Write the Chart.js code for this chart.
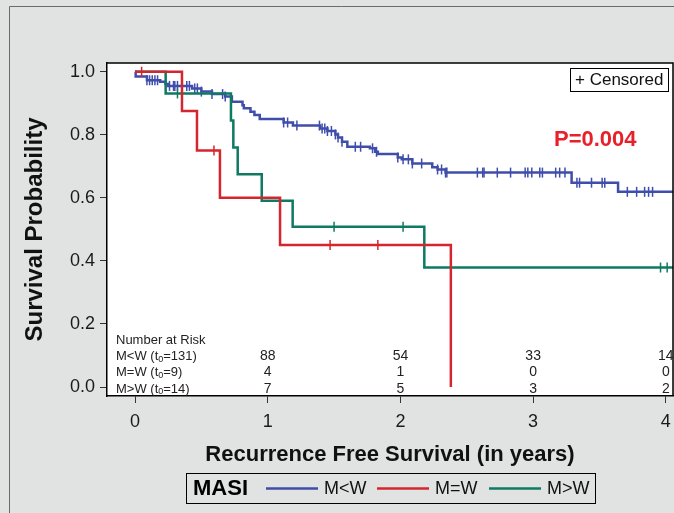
<!DOCTYPE html>
<html>
<head>
<meta charset="utf-8">
<script src="https://cdn.jsdelivr.net/npm/chart.js@4"></script>
<style>
  body { margin: 0; background: #e1e3e2; overflow: hidden; }
  canvas { display: block; }
</style>
</head>
<body>
<canvas id="km-chart" width="674" height="513"></canvas>
<script>
const xTicks = [0, 1, 2, 3, 4];
const yTicks = [0, 0.2, 0.4, 0.6, 0.8, 1.0];

const groups = ["M<W", "M=W", "M>W"];
const groupN = [131, 9, 14];
const colors = ["#3f4dab", "#d3262e", "#0f7a62"];

// M<W : step times and survival after each step
const ltTimes = [0, 0.005, 0.09, 0.19, 0.23, 0.25, 0.43, 0.50, 0.58, 0.68, 0.73, 0.81, 0.82, 0.87, 0.90, 0.94,
  1.12, 1.19, 1.395, 1.45, 1.51, 1.53, 1.56, 1.60, 1.77, 1.81, 1.83, 1.98, 2.01, 2.09, 2.24, 2.28, 2.34, 3.29, 3.64, 4.1];
const ltSurv = [1.0, 0.985, 0.973, 0.968, 0.961, 0.955, 0.947, 0.937, 0.929, 0.921, 0.905, 0.894, 0.884, 0.873, 0.863, 0.85,
  0.839, 0.829, 0.82, 0.812, 0.801, 0.791, 0.778, 0.762, 0.757, 0.746, 0.739, 0.728, 0.722, 0.709, 0.697, 0.69, 0.68, 0.648, 0.619, 0.619];
const ltCensor = [0.09, 0.11, 0.13, 0.15, 0.17, 0.26, 0.29, 0.30, 0.32, 0.39, 0.41, 0.45, 0.47, 0.50, 0.58, 0.66, 0.68,
  1.12, 1.15, 1.22, 1.39, 1.41, 1.43, 1.45, 1.48, 1.51, 1.53, 1.56, 1.66, 1.70, 1.79, 1.82, 1.98, 2.02, 2.06, 2.09, 2.16,
  2.28, 2.31, 2.34, 2.35, 2.58, 2.62, 2.63, 2.73, 2.83, 2.94, 2.96, 2.99, 3.05, 3.07, 3.17, 3.20, 3.24, 3.33, 3.35, 3.44,
  3.52, 3.54, 3.71, 3.78, 3.84, 3.87, 3.90];

// M=W
const eqTimes = [0, 0.354, 0.467, 0.64, 1.093, 2.38];
const eqSurv = [1.0, 0.875, 0.75, 0.6, 0.45, 0.0];
const eqCensor = [0.05, 0.595, 1.47, 1.83];

// M>W
const gtTimes = [0, 0.231, 0.723, 0.741, 0.774, 0.955, 1.188, 2.18, 4.1];
const gtSurv = [1.0, 0.931, 0.845, 0.760, 0.675, 0.591, 0.508, 0.379, 0.379];
const gtCensor = [0.32, 1.50, 2.02, 3.96, 4.01];

// number at risk
const riskTimes = [1, 2, 3, 4];
const riskLt = [88, 54, 33, 14];
const riskEq = [4, 1, 0, 0];
const riskGt = [7, 5, 3, 2];

const pText = "P=0.004";
const FONT = "'Liberation Sans', Arial, sans-serif";

function survAt(times, surv, t) {
  let v = surv[0];
  for (let i = 0; i < times.length; i++) {
    if (times[i] <= t) v = surv[i];
  }
  return v;
}

function curve(times, surv) {
  return times.map((t, i) => ({x: t, y: surv[i]}));
}

function censorPts(times, surv, cens) {
  return cens.map(t => ({x: t, y: survAt(times, surv, t)}));
}

const allTimes = [ltTimes, eqTimes, gtTimes];
const allSurv = [ltSurv, eqSurv, gtSurv];
const allCensor = [ltCensor, eqCensor, gtCensor];
const drawOrder = [2, 0, 1];

const datasets = [];
groups.forEach((g, i) => {
  datasets.push({
    label: g,
    data: curve(allTimes[i], allSurv[i]),
    borderColor: colors[i],
    borderWidth: 2.5,
    stepped: "before",
    pointRadius: 0,
    fill: false,
    order: drawOrder[i]
  });
  datasets.push({
    label: g + " censored",
    data: censorPts(allTimes[i], allSurv[i], allCensor[i]),
    showLine: false,
    borderColor: colors[i],
    pointStyle: "line",
    rotation: 90,
    pointRadius: 5,
    pointBorderWidth: 1.5,
    order: drawOrder[i]
  });
});

function subLabel(ctx, x, y, name, n, size) {
  let cx = x;
  ctx.font = size + "px " + FONT;
  const a = name + " (t";
  ctx.fillText(a, cx, y);
  cx += ctx.measureText(a).width;
  ctx.font = Math.round(size * 0.7) + "px " + FONT;
  ctx.fillText("0", cx, y + 3);
  cx += ctx.measureText("0").width;
  ctx.font = size + "px " + FONT;
  ctx.fillText("=" + n + ")", cx, y);
}

const extras = {
  id: "extras",
  beforeDraw(chart) {
    const {ctx, chartArea: a, width, height} = chart;
    ctx.save();
    ctx.fillStyle = "#e1e3e2";
    ctx.fillRect(0, 0, width, height);
    ctx.strokeStyle = "#6a6a6a";
    ctx.lineWidth = 1;
    ctx.beginPath();
    ctx.moveTo(9.5, height);
    ctx.lineTo(9.5, 6.5);
    ctx.lineTo(width, 6.5);
    ctx.stroke();
    ctx.fillStyle = "#ffffff";
    ctx.fillRect(a.left, a.top, a.right - a.left, a.bottom - a.top);
    ctx.restore();
  },
  afterDraw(chart) {
    const {ctx, chartArea: a} = chart;
    const xs = chart.scales.x;
    ctx.save();
    // frame top/right
    ctx.strokeStyle = "#000";
    ctx.lineWidth = 1.5;
    ctx.beginPath();
    ctx.moveTo(a.left, a.top);
    ctx.lineTo(a.right, a.top);
    ctx.lineTo(a.right, a.bottom);
    ctx.stroke();

    // censored box
    ctx.lineWidth = 1;
    ctx.strokeStyle = "#000";
    ctx.strokeRect(570.5, 68.5, 98, 23);
    ctx.fillStyle = "#111";
    ctx.font = "17px " + FONT;
    ctx.textBaseline = "middle";
    ctx.textAlign = "left";
    ctx.fillText("+ Censored", 575, 80.5);

    // p value
    ctx.fillStyle = "#e8202a";
    ctx.font = "bold 22px " + FONT;
    ctx.fillText(pText, 554, 140);

    // number at risk
    ctx.fillStyle = "#222";
    ctx.font = "13px " + FONT;
    ctx.fillText("Number at Risk", 116, 340);
    const rows = [riskLt, riskEq, riskGt];
    const rowY = [356.5, 372.5, 389];
    rows.forEach((r, i) => {
      ctx.textAlign = "left";
      subLabel(ctx, 116, rowY[i], groups[i], groupN[i], 13);
      ctx.font = "14px " + FONT;
      ctx.textAlign = "center";
      riskTimes.forEach((t, j) => {
        ctx.fillText(String(r[j]), xs.getPixelForValue(t), rowY[i]);
      });
    });

    // legend
    ctx.strokeStyle = "#000";
    ctx.lineWidth = 1;
    ctx.strokeRect(186.5, 473.5, 409, 30);
    ctx.textAlign = "left";
    ctx.fillStyle = "#000";
    ctx.font = "bold 22px " + FONT;
    ctx.fillText("MASI", 193, 489);
    const lineX = [266, 377, 489];
    groups.forEach((g, i) => {
      ctx.strokeStyle = colors[i];
      ctx.lineWidth = 2.5;
      ctx.beginPath();
      ctx.moveTo(lineX[i], 488.5);
      ctx.lineTo(lineX[i] + 52, 488.5);
      ctx.stroke();
      ctx.fillStyle = "#111";
      ctx.font = "18px " + FONT;
      ctx.fillText(g, lineX[i] + 58, 489);
    });
    ctx.restore();
  }
};

const ctx = document.getElementById("km-chart").getContext("2d");
new Chart(ctx, {
  type: "line",
  data: { datasets: datasets },
  plugins: [extras],
  options: {
    responsive: false,
    animation: false,
    layout: { autoPadding: false, padding: { top: 63, right: 1, left: 0, bottom: 0 } },
    plugins: { legend: { display: false }, tooltip: { enabled: false } },
    scales: {
      x: {
        type: "linear",
        min: -0.211,
        max: 4.054,
        afterBuildTicks: s => { s.ticks = xTicks.map(v => ({value: v})); },
        afterFit: s => { s.height = 117; s.paddingLeft = 0; s.paddingRight = 0; },
        ticks: {
          font: { family: FONT, size: 18 },
          color: "#1a1a1a",
          padding: 8,
          maxRotation: 0,
          autoSkip: false,
          callback: v => String(v)
        },
        grid: { drawOnChartArea: false, drawTicks: true, tickLength: 7, color: "#333", lineWidth: 1 },
        border: { color: "#000", width: 1.5 },
        title: {
          display: true,
          text: "Recurrence Free Survival (in years)",
          font: { family: FONT, size: 22, weight: "bold" },
          color: "#111",
          padding: { top: 0, bottom: 45 }
        }
      },
      y: {
        type: "linear",
        min: -0.0285,
        max: 1.0276,
        afterBuildTicks: s => { s.ticks = yTicks.map(v => ({value: v})); },
        afterFit: s => { s.width = 107; s.paddingTop = 0; s.paddingBottom = 0; },
        ticks: {
          font: { family: FONT, size: 18 },
          color: "#1a1a1a",
          padding: 5,
          callback: v => Number(v).toFixed(1)
        },
        grid: { drawOnChartArea: false, drawTicks: true, tickLength: 7, color: "#333", lineWidth: 1 },
        border: { color: "#000", width: 1.5 },
        title: {
          display: true,
          text: "Survival Probability",
          font: { family: FONT, size: 24, weight: "bold" },
          color: "#111",
          padding: { top: 21, bottom: 0 }
        }
      }
    }
  }
});
</script>
</body>
</html>
